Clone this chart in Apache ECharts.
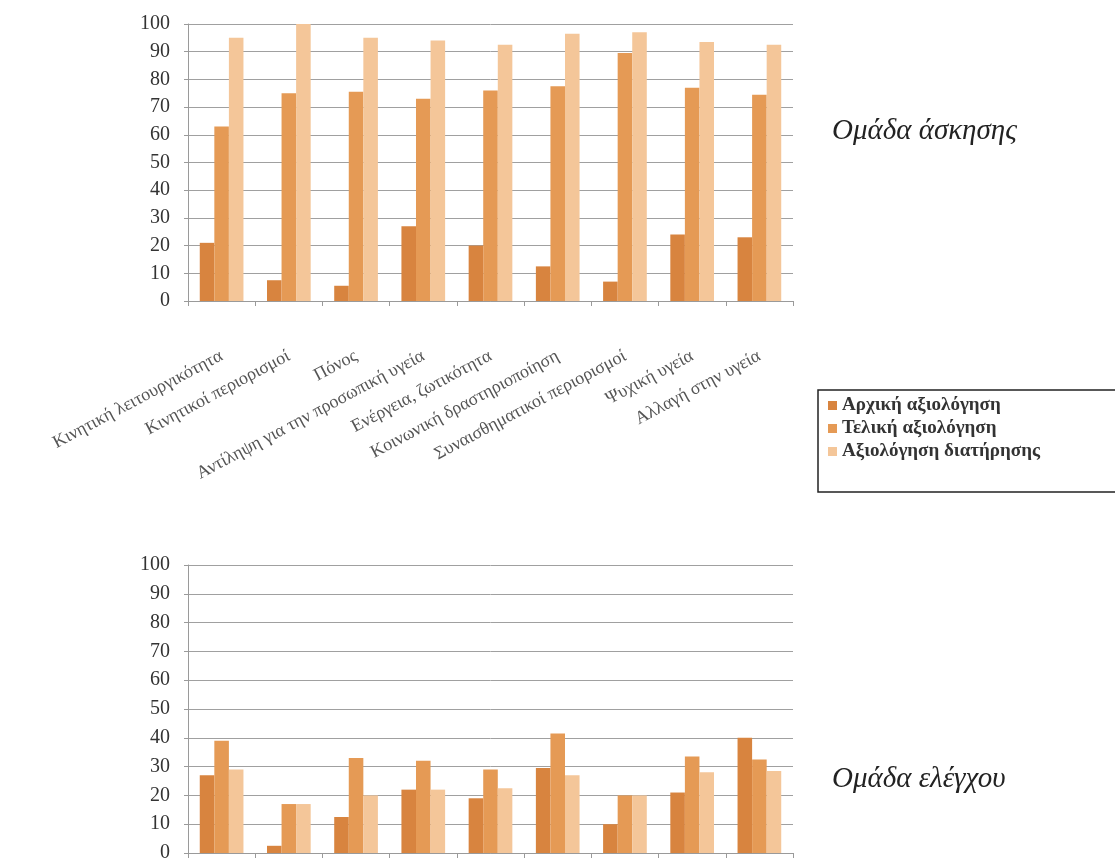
<!DOCTYPE html>
<html>
<head>
<meta charset="utf-8">
<script src="https://cdn.jsdelivr.net/npm/echarts@6/dist/echarts.min.js"></script>
<style>
  html, body { margin: 0; padding: 0; background: #ffffff; }
  #chart { width: 1115px; height: 863px; }
</style>
</head>
<body>
<div id="chart"></div>
<script>
// Κατηγορίες ποιότητας ζωής
const categories = [
  'Κινητική λειτουργικότητα',
  'Κινητικοί περιορισμοί',
  'Πόνος',
  'Αντίληψη για την προσωπική υγεία',
  'Ενέργεια, ζωτικότητα',
  'Κοινωνική δραστηριοποίηση',
  'Συναισθηματικοί περιορισμοί',
  'Ψυχική υγεία',
  'Αλλαγή στην υγεία'
];

const seriesNames = ['Αρχική αξιολόγηση', 'Τελική αξιολόγηση', 'Αξιολόγηση διατήρησης'];

// Ομάδα άσκησης
const exerciseInitial   = [21, 7.5, 5.5, 27, 20, 12.5, 7, 24, 23];
const exerciseFinal     = [63, 75, 75.5, 73, 76, 77.5, 89.5, 77, 74.5];
const exerciseFollowUp  = [95, 100, 95, 94, 92.5, 96.5, 97, 93.5, 92.5];

// Ομάδα ελέγχου
const controlInitial    = [27, 2.5, 12.5, 22, 19, 29.5, 10, 21, 40];
const controlFinal      = [39, 17, 33, 32, 29, 41.5, 20, 33.5, 32.5];
const controlFollowUp   = [29, 17, 20, 22, 22.5, 27, 20, 28, 28.5];

const yTicks = { min: 0, max: 100, interval: 10 };

const colors = ['#D8843F', '#E59A55', '#F4C699'];
const serif = '"Liberation Serif", "DejaVu Serif", serif';

function yAxis(gridIndex) {
  return {
    type: 'value', gridIndex,
    min: yTicks.min, max: yTicks.max, interval: yTicks.interval,
    axisLine: { show: true, lineStyle: { color: '#9a9a9a', width: 1 } },
    axisTick: { show: true, length: 4, lineStyle: { color: '#9a9a9a' } },
    splitLine: { show: true, lineStyle: { color: '#a0a0a0', width: 1 } },
    axisLabel: { fontFamily: serif, fontSize: 20, color: '#333', margin: 18 }
  };
}

function xAxis(gridIndex, showLabels) {
  return {
    type: 'category', gridIndex, data: categories,
    boundaryGap: true,
    axisLine: { show: true, lineStyle: { color: '#9a9a9a', width: 1 } },
    axisTick: { show: true, interval: 0, length: 5, lineStyle: { color: '#9a9a9a' } },
    axisLabel: showLabels ? {
      show: true, interval: 0, rotate: 28, margin: 54,
      fontFamily: serif, fontSize: 18, color: '#555'
    } : { show: false, interval: 0 }
  };
}

function bars(name, data, idx, axisIndex) {
  return {
    name, type: 'bar', data,
    xAxisIndex: axisIndex, yAxisIndex: axisIndex,
    barGap: '0%', barCategoryGap: '35%',
    itemStyle: { color: colors[idx] },
    emphasis: { disabled: true }
  };
}

const chart = echarts.init(document.getElementById('chart'), null, { renderer: 'canvas' });

chart.setOption({
  animation: false,
  backgroundColor: '#ffffff',
  color: colors,
  grid: [
    { left: 188, right: 322, top: 24, bottom: 562, containLabel: false },
    { left: 188, right: 322, top: 565, bottom: 6, containLabel: false }
  ],
  xAxis: [xAxis(0, true), xAxis(1, false)],
  yAxis: [yAxis(0), yAxis(1)],
  legend: {
    data: seriesNames,
    orient: 'vertical',
    left: 818, top: 390,
    itemWidth: 9, itemHeight: 9, itemGap: 4,
    icon: 'rect',
    padding: [6, 10, 6, 10],
    textStyle: { fontFamily: serif, fontSize: 19, color: '#333', fontWeight: 'bold' }
  },
  graphic: [
    {
      // legend frame, running off the right edge of the page
      type: 'rect', x: 818, y: 390, silent: true,
      shape: { x: 0, y: 0, width: 400, height: 102 },
      style: { fill: 'none', stroke: '#222', lineWidth: 1.5 }
    },
    {
      type: 'text', left: 832, top: 117,
      style: { text: 'Ομάδα άσκησης', font: 'italic 29px ' + serif, fill: '#222' }
    },
    {
      type: 'text', left: 832, top: 765,
      style: { text: 'Ομάδα ελέγχου', font: 'italic 29px ' + serif, fill: '#222' }
    }
  ],
  series: [
    bars(seriesNames[0], exerciseInitial, 0, 0),
    bars(seriesNames[1], exerciseFinal, 1, 0),
    bars(seriesNames[2], exerciseFollowUp, 2, 0),
    bars(seriesNames[0], controlInitial, 0, 1),
    bars(seriesNames[1], controlFinal, 1, 1),
    bars(seriesNames[2], controlFollowUp, 2, 1)
  ]
});
</script>
</body>
</html>
